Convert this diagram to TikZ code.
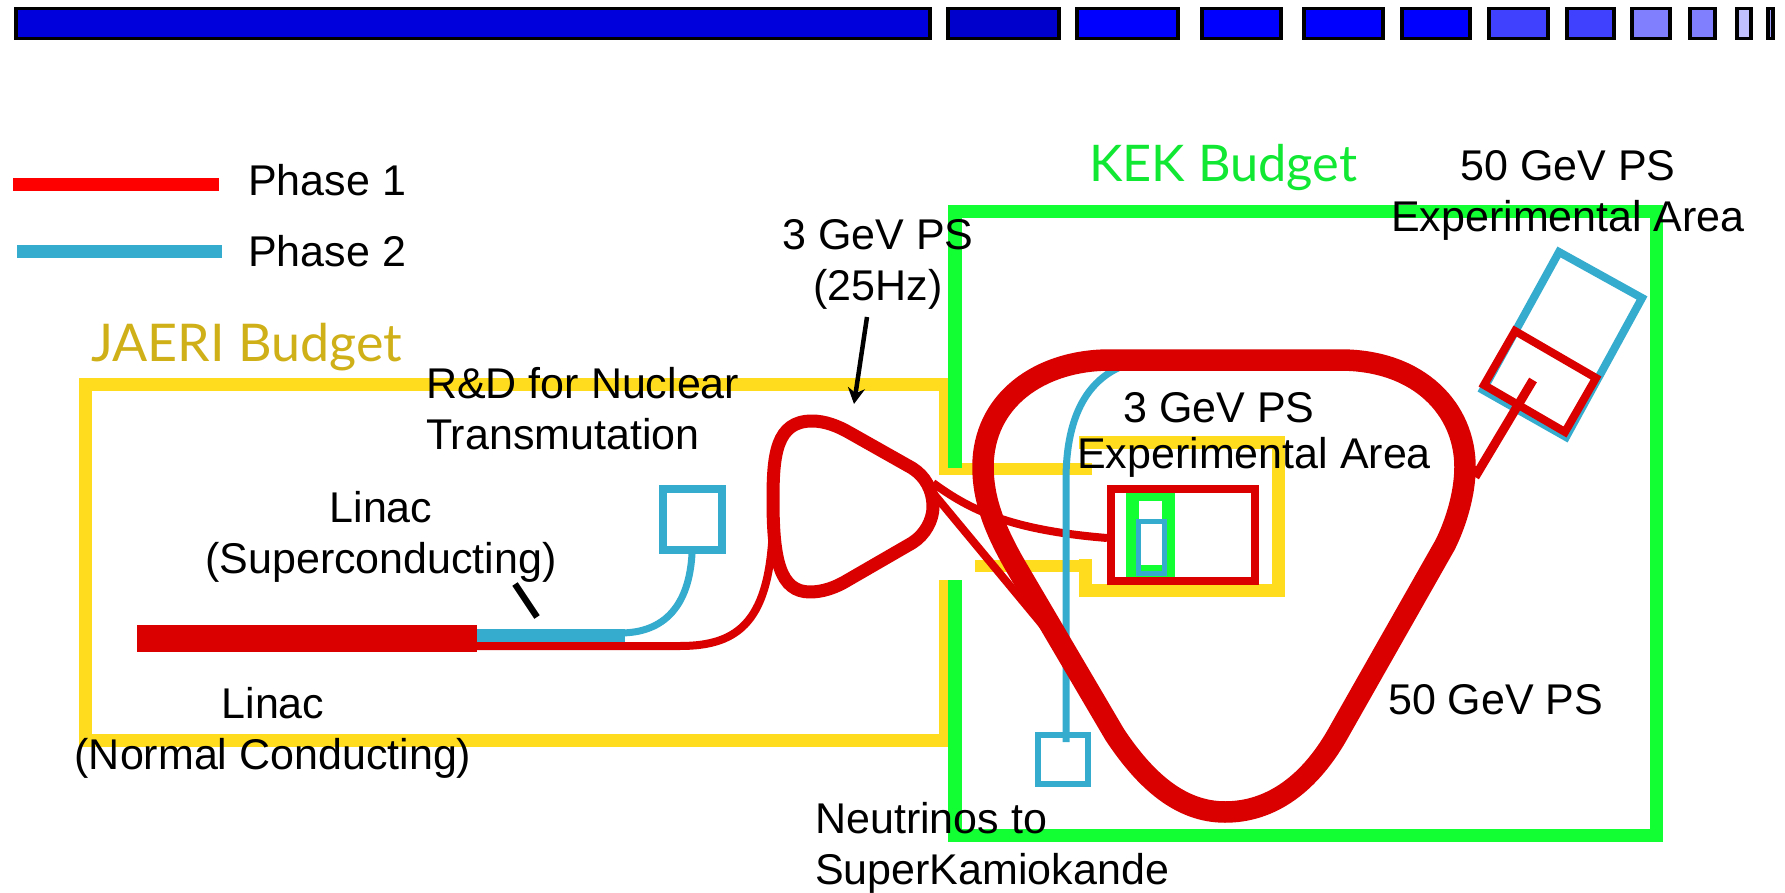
\documentclass[tikz,border=0pt]{standalone}
\usepackage{fontspec}
\setmainfont{Liberation Sans}
\newfontfamily\budgetfont{Lato}
\usetikzlibrary{arrows.meta}
\definecolor{ringred}{HTML}{DA0000}
\definecolor{purered}{HTML}{FF0000}
\definecolor{phasetwo}{HTML}{35ABCE}
\definecolor{jaeriyel}{HTML}{FFDD1E}
\definecolor{kekgreen}{HTML}{11FF33}
\definecolor{kektext}{HTML}{11E833}
\definecolor{jaeritext}{HTML}{D0B018}
\tikzset{
  x=1pt,y=-1pt,
  lab/.style={inner sep=0pt,font=\fontsize{43}{51}\selectfont,text=black},
  budget/.style={inner sep=0pt,anchor=base west,font=\budgetfont\fontsize{#1}{60}\selectfont},
  seg/.style={draw=black,line width=3.5pt},
  ybar/.style={draw=jaeriyel,line width=13pt},
  gbar/.style={draw=kekgreen,line width=13.5pt},
  redl/.style={draw=ringred,line width=8pt},
  bluel/.style={draw=phasetwo,line width=7pt},
}
\begin{document}
\begin{tikzpicture}
\useasboundingbox (0,0) rectangle (1785,893);
\fill[white] (0,0) rectangle (1785,893);
% top segments
\foreach \a/\b/\c in {16/930/0000DD,948/1059/0000CC,1077/1178/0000FF,1202/1281/0000FF,1304/1383/0000FF,1402/1470/0000FF,1489/1548/4040FF,1567/1614/4040FF,1632/1670/8080FF,1690/1715/8080FF,1737/1751/C0C0FF,1768/1773/A0A0FF}{
  \definecolor{segc}{HTML}{\c}
  \draw[seg,fill=segc] (\a,8.5) rectangle (\b,38.5);
}
% legend
\draw[draw=purered,line width=13pt] (13,184.5) -- (219,184.5);
\draw[draw=phasetwo,line width=13pt] (17,251.5) -- (222,251.5);
% JAERI frame
\draw[ybar] (950,468.5) -- (945.5,468.5) -- (945.5,384.5) -- (85.5,384.5) -- (85.5,740) -- (945.5,740) -- (945.5,580);
% experimental area yellow
\draw[draw=jaeriyel,line width=12pt] (950,468.5) -- (1092,468.5);
\draw[draw=jaeriyel,line width=12pt] (975,566) -- (1085.5,566);
\draw[draw=jaeriyel,line width=13pt] (1085.5,559) -- (1085.5,590) -- (1278,590) -- (1278,442) -- (1079,442);
% KEK frame
\draw[gbar] (955,468) -- (955,211.5) -- (1656.5,211.5) -- (1656.5,835.5) -- (955,835.5) -- (955,580);
% linac
\fill[phasetwo] (477,629) rectangle (625,643);
\draw[bluel] (692,554) .. controls (689,605) and (665,633) .. (620,633);
\fill[ringred] (137,625) rectangle (477,652);
\draw[redl] (477,646) -- (680,646) .. controls (740,646) and (770,620) .. (773,525);
\draw[draw=phasetwo,line width=8pt] (663,489) rectangle (722,550);
\draw[draw=black,line width=6.5pt] (515,584) -- (537,617);
% small ring
\draw[draw=ringred,line width=13pt,line join=round]
  (773,500) .. controls (773,455) and (776,421) .. (812,421)
  .. controls (825,421) and (838,426) .. (850,433) -- (912,468)
  .. controls (925,476) and (933,490) .. (933,507)
  .. controls (933,520) and (925,535) .. (912,543) -- (848,580)
  .. controls (835,588) and (822,592) .. (810,592)
  .. controls (780,592) and (773,560) .. (773,500) -- cycle;
% branches into the experimental area
\draw[redl] (933,483) .. controls (970,510) and (1010,530) .. (1107,538);
\draw[redl] (933,493) -- (1045,628);
% inner experimental hall
\fill[kekgreen] (1126,493) rectangle (1175,577);
\fill[white] (1139,501) rectangle (1162,565);
\draw[draw=ringred,line width=7.5pt] (1111,489) rectangle (1255,581);
\draw[draw=phasetwo,line width=5pt] (1138.5,521.5) rectangle (1164.5,573.5);
% neutrino line
\draw[bluel] (1125,365) .. controls (1085,380) and (1066,420) .. (1066,480) -- (1066,742);
\draw[draw=phasetwo,line width=6pt] (1038,735) rectangle (1088,784);
% 50 GeV experimental area
\draw[draw=phasetwo,line width=8pt,line join=miter] (1559,252) -- (1642,298) -- (1566,437) -- (1483,390) -- cycle;
\draw[draw=ringred,line width=9pt] (1475,477) -- (1533,380);
\draw[draw=ringred,line width=8pt,line join=miter] (1515,331) -- (1596,378) -- (1565,432) -- (1484,385) -- cycle;
% big ring
\draw[draw=ringred,line width=21.5pt,line join=round]
  (1110,360) -- (1340,360)
  .. controls (1420,360) and (1465,410) .. (1465,467)
  .. controls (1465,495) and (1455,525) .. (1445,545) -- (1340,730)
  .. controls (1310,785) and (1270,812) .. (1225,812)
  .. controls (1180,812) and (1145,780) .. (1115,735) -- (1015,565)
  .. controls (995,530) and (983,500) .. (983,467)
  .. controls (983,400) and (1040,360) .. (1110,360) -- cycle;
% arrow
\draw[draw=black,line width=4.5pt,-{Stealth[length=16pt,width=17pt,inset=5pt]}] (867,317) -- (854,404);
% labels
\node[lab,anchor=base west] (p1) at (248,196) {Phase 1};
\node[lab,anchor=base west] (p2) at (248,267) {Phase 2};
\node[budget=52,text=jaeritext] (jb) at (91,361) {JAERI Budget};
\node[budget=50.5,text=kektext] (kb) at (1089,182) {KEK Budget};
\node[lab,align=center,anchor=base] (ps3) at (878,300) {3 GeV PS\\(25Hz)};
\node[lab,align=left,anchor=base west] (rd) at (426,449) {R\&D for Nuclear\\Transmutation};
\node[lab,align=center,anchor=base] (ls) at (381,573) {Linac\\(Superconducting)};
\node[lab,align=center,anchor=base] (ln) at (273,769) {Linac\\(Normal Conducting)};
\node[lab,anchor=base west] (ps50) at (1388,714) {50 GeV PS};
\node[lab,anchor=base west] (e3a) at (1123,422) {3 GeV PS};
\node[lab,anchor=base west] (e3b) at (1077,468) {Experimental Area};
\node[lab,align=center,anchor=base] (e50) at (1568,232) {50 GeV PS\\Experimental Area};
\node[lab,align=left,anchor=base west] (nu) at (815,884) {Neutrinos to\\SuperKamiokande};
\end{tikzpicture}
\end{document}
